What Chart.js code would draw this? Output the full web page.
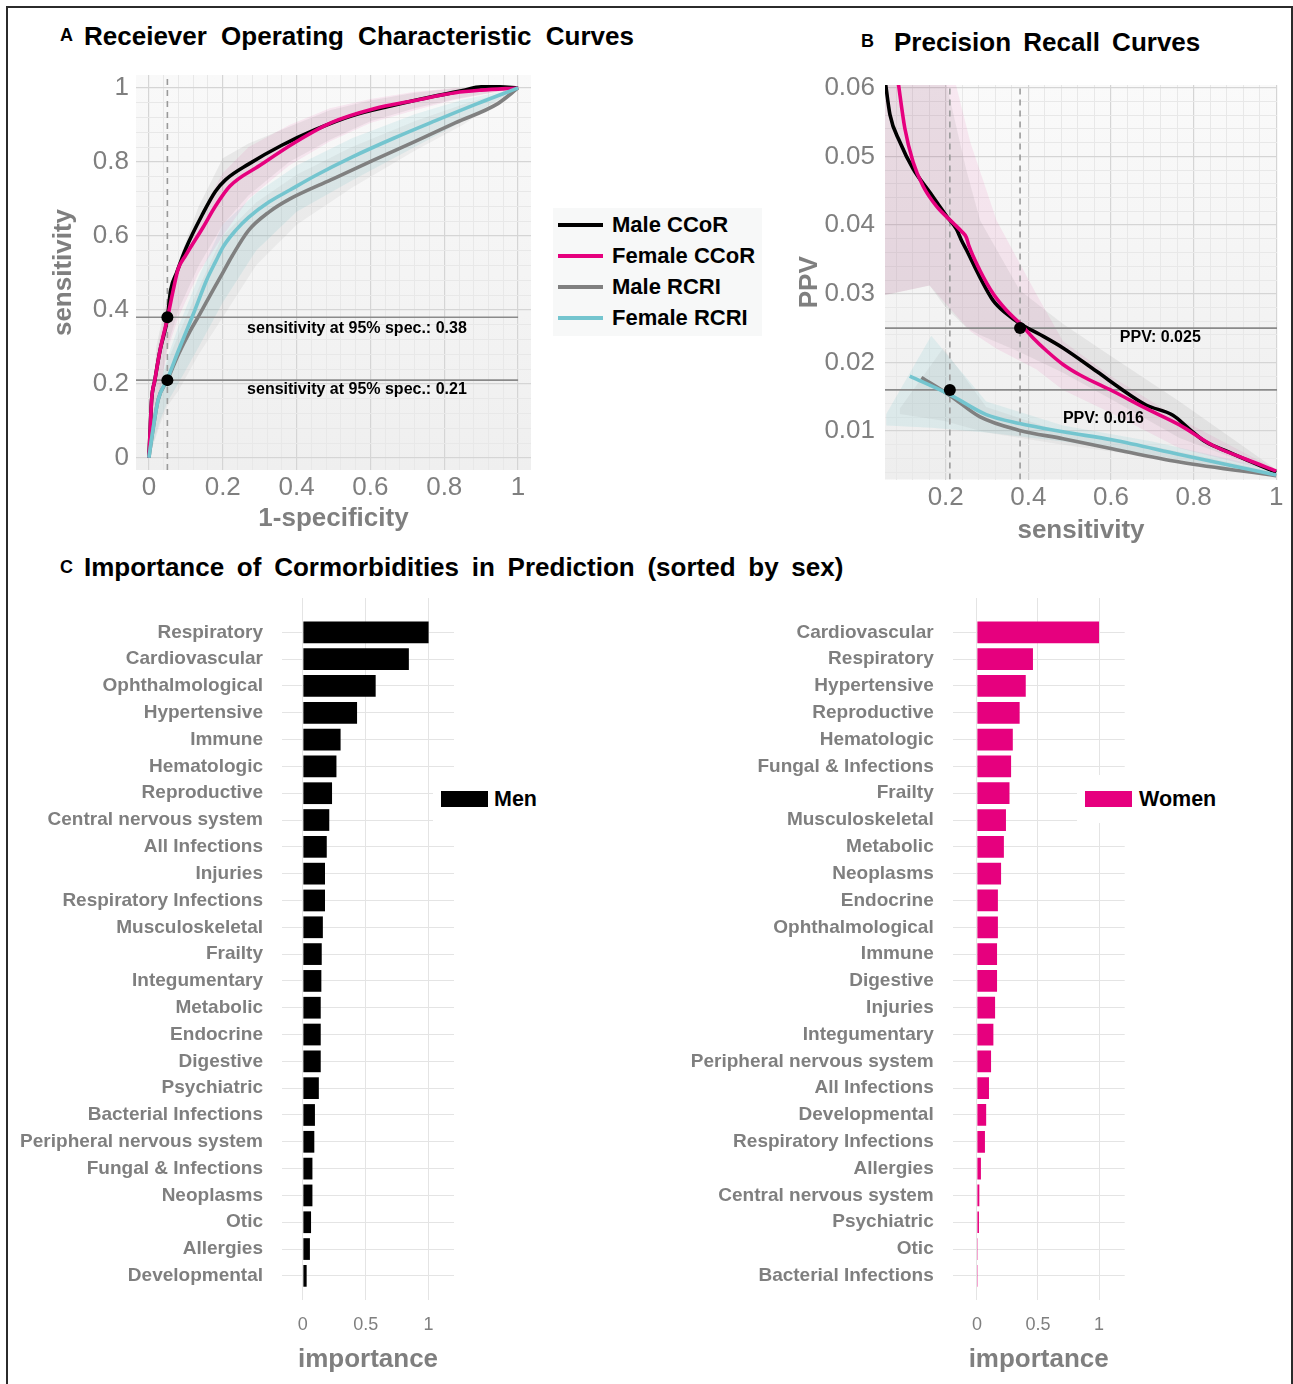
<!DOCTYPE html>
<html>
<head>
<meta charset="utf-8">
<title>CCoR vs RCRI – ROC, PR and comorbidity importance</title>
<script src="https://cdn.jsdelivr.net/npm/chart.js@4.4.1/dist/chart.umd.min.js"></script>
<style>
  html, body { margin: 0; padding: 0; background: #fff; }
  body { width: 1293px; height: 1384px; position: relative; overflow: hidden;
         font-family: "Liberation Sans", Arial, Helvetica, sans-serif; }
  .frame { position: absolute; left: 6px; top: 6px; width: 1287px; height: 1420px;
           border: 2px solid #2b2b2b; box-sizing: border-box; }
  .box { position: absolute; }
  .tag { position: absolute; font-weight: bold; font-size: 18px; line-height: 20px; color: #000; }
  .title { position: absolute; font-weight: bold; font-size: 26px; line-height: 30px; color: #000;
           white-space: nowrap; }
  .legend { position: absolute; background: #f7f8f8; }
  .swatch { position: absolute; }
  .ltext { position: absolute; font-weight: bold; font-size: 22px; line-height: 26px; color: #000; white-space: nowrap; }
  .cover { position: absolute; background: #fff; }
</style>
</head>
<body>
<div class="frame"></div>

<div class="tag" style="left:60px;top:25px">A</div>
<div class="title" style="left:84px;top:21px;word-spacing:7px">Receiever Operating Characteristic Curves</div>
<div class="tag" style="left:861px;top:31px">B</div>
<div class="title" style="left:894px;top:27px;word-spacing:5px">Precision Recall Curves</div>
<div class="tag" style="left:60px;top:557px">C</div>
<div class="title" style="left:84px;top:552px;word-spacing:5.5px">Importance of Cormorbidities in Prediction (sorted by sex)</div>

<div class="box" style="left:20px;top:60px;width:530px;height:480px"><canvas id="roc"></canvas></div>
<div class="box" style="left:790px;top:60px;width:503px;height:490px"><canvas id="pr"></canvas></div>
<div class="box" style="left:0px;top:580px;width:560px;height:800px"><canvas id="men"></canvas></div>
<div class="box" style="left:660px;top:580px;width:633px;height:800px"><canvas id="women"></canvas></div>

<div id="rocLegend" class="legend" style="left:553px;top:208px;width:209px;height:128px"></div>
<div id="menLegend" class="cover" style="left:433px;top:775px;width:112px;height:48px"></div>
<div id="womenLegend" class="cover" style="left:1077px;top:775px;width:150px;height:48px"></div>

<script>
// ---------- series names ----------
const rocSeries = ['Male CCoR', 'Female CCoR', 'Male RCRI', 'Female RCRI'];

// ---------- ROC curves (1-specificity, sensitivity) ----------
const rocMaleCcorFpr   = [0, 0.004, 0.0073, 0.016, 0.03, 0.0496, 0.059, 0.075, 0.1, 0.146, 0.18, 0.208, 0.27, 0.36, 0.45, 0.55, 0.663, 0.775, 0.85, 0.9, 0.95, 1];
const rocMaleCcorTpr   = [0, 0.09, 0.157, 0.21, 0.29, 0.375, 0.454, 0.5, 0.566, 0.66, 0.72, 0.752, 0.794, 0.845, 0.887, 0.925, 0.953, 0.978, 0.993, 1.003, 1.003, 1];
const rocFemaleCcorFpr = [0, 0.004, 0.0073, 0.016, 0.03, 0.0496, 0.066, 0.079, 0.1, 0.146, 0.18, 0.219, 0.3, 0.4, 0.494, 0.607, 0.72, 0.83, 0.9, 1];
const rocFemaleCcorTpr = [0, 0.09, 0.157, 0.21, 0.29, 0.375, 0.454, 0.51, 0.548, 0.622, 0.68, 0.734, 0.79, 0.855, 0.906, 0.943, 0.966, 0.987, 0.994, 1];
const rocMaleRcriFpr   = [0, 0.01, 0.025, 0.05, 0.08, 0.11, 0.134, 0.174, 0.2, 0.225, 0.27, 0.326, 0.382, 0.494, 0.607, 0.72, 0.831, 0.944, 1];
const rocMaleRcriTpr   = [0, 0.07, 0.157, 0.21, 0.28, 0.34, 0.382, 0.454, 0.5, 0.545, 0.615, 0.665, 0.7, 0.752, 0.804, 0.855, 0.906, 0.957, 1];
const rocFemaleRcriFpr = [0, 0.01, 0.025, 0.05, 0.08, 0.124, 0.157, 0.18, 0.202, 0.235, 0.27, 0.326, 0.382, 0.449, 0.55, 0.663, 0.775, 0.888, 1];
const rocFemaleRcriTpr = [0, 0.07, 0.157, 0.213, 0.29, 0.398, 0.482, 0.529, 0.572, 0.615, 0.65, 0.692, 0.724, 0.762, 0.813, 0.864, 0.911, 0.957, 1];

// ROC confidence bands
const rocCcorBandFpr    = [0, 0.02, 0.05, 0.08, 0.135, 0.2, 0.27, 0.38, 0.49, 0.6, 0.72, 0.83, 1];
const rocMaleCcorLow    = [0, 0.12, 0.3, 0.4, 0.52, 0.63, 0.71, 0.8, 0.86, 0.91, 0.945, 0.97, 1];
const rocMaleCcorHigh   = [0, 0.3, 0.44, 0.53, 0.68, 0.81, 0.85, 0.895, 0.94, 0.966, 0.987, 0.999, 1];
const rocFemaleCcorLow  = [0, 0.12, 0.29, 0.38, 0.5, 0.6, 0.7, 0.79, 0.855, 0.905, 0.94, 0.968, 1];
const rocFemaleCcorHigh = [0, 0.28, 0.43, 0.52, 0.65, 0.77, 0.84, 0.9, 0.945, 0.97, 0.99, 1.0, 1];
const rocRcriBandFpr    = [0, 0.03, 0.05, 0.079, 0.135, 0.2, 0.29, 0.4, 0.55, 0.72, 0.85, 1];
const rocMaleRcriLow    = [0, 0.09, 0.14, 0.18, 0.28, 0.38, 0.52, 0.63, 0.73, 0.83, 0.9, 1];
const rocMaleRcriHigh   = [0, 0.19, 0.26, 0.33, 0.46, 0.6, 0.69, 0.765, 0.84, 0.91, 0.955, 1];
const rocFemaleRcriLow  = [0, 0.1, 0.15, 0.2, 0.3, 0.42, 0.56, 0.665, 0.75, 0.84, 0.91, 1];
const rocFemaleRcriHigh = [0, 0.2, 0.27, 0.352, 0.49, 0.631, 0.715, 0.79, 0.864, 0.929, 0.968, 1];

// operating point at 95% specificity
const rocFprAtCut  = 0.05;
const rocSensAtCut = [0.38, 0.21];

// ---------- Precision-recall curves (sensitivity, PPV) ----------
const prMaleCcorSens   = [0.053, 0.065, 0.089, 0.121, 0.161, 0.202, 0.226, 0.238, 0.25, 0.282, 0.315, 0.347, 0.381, 0.427, 0.484, 0.565, 0.645, 0.685, 0.75, 0.79, 0.83, 0.887, 0.944, 1.0];
const prMaleCcorPpv    = [0.0612, 0.0561, 0.0521, 0.0482, 0.0448, 0.0413, 0.0394, 0.0378, 0.0364, 0.0325, 0.029, 0.0271, 0.0256, 0.0241, 0.0221, 0.0187, 0.0153, 0.0138, 0.0123, 0.0103, 0.0084, 0.0069, 0.0054, 0.0040];
const prFemaleCcorSens = [0.084, 0.101, 0.121, 0.145, 0.177, 0.218, 0.238, 0.25, 0.256, 0.282, 0.315, 0.347, 0.381, 0.411, 0.444, 0.484, 0.524, 0.605, 0.685, 0.766, 0.847, 0.927, 1.0];
const prFemaleCcorPpv  = [0.0612, 0.0541, 0.0492, 0.0457, 0.0428, 0.0403, 0.0391, 0.0382, 0.037, 0.0335, 0.030, 0.0276, 0.0256, 0.0236, 0.0217, 0.0197, 0.0182, 0.0158, 0.0133, 0.0109, 0.0079, 0.0059, 0.0042];
const prMaleRcriSens   = [0.141, 0.21, 0.282, 0.379, 0.484, 0.605, 0.766, 1.0];
const prMaleRcriPpv    = [0.0178, 0.0152, 0.0121, 0.0101, 0.0089, 0.0074, 0.0055, 0.0035];
const prFemaleRcriSens = [0.113, 0.21, 0.298, 0.379, 0.484, 0.605, 0.766, 1.0];
const prFemaleRcriPpv  = [0.018, 0.0153, 0.0124, 0.0111, 0.0099, 0.0087, 0.0066, 0.0036];

// PR confidence bands
const prMaleCcorBandSens   = [0.052, 0.161, 0.2, 0.25, 0.283, 0.379, 0.484, 0.605, 0.766, 1.0];
const prMaleCcorLow        = [0.0298, 0.0312, 0.028, 0.0251, 0.024, 0.0215, 0.0185, 0.0145, 0.009, 0.0038];
const prMaleCcorHigh       = [0.061, 0.061, 0.061, 0.048, 0.0407, 0.0305, 0.0256, 0.0207, 0.0143, 0.0044];
const prFemaleCcorBandSens = [0.052, 0.161, 0.2225, 0.26, 0.323, 0.419, 0.484, 0.605, 0.766, 1.0];
const prFemaleCcorLow      = [0.0298, 0.0312, 0.027, 0.0245, 0.022, 0.019, 0.016, 0.0125, 0.0075, 0.004];
const prFemaleCcorHigh     = [0.061, 0.061, 0.061, 0.052, 0.0407, 0.030, 0.0231, 0.0178, 0.0118, 0.0044];
const prMaleRcriBandSens   = [0.089, 0.194, 0.298, 0.484, 0.7, 1.0];
const prMaleRcriLow        = [0.0125, 0.0115, 0.0098, 0.008, 0.0062, 0.0032];
const prMaleRcriHigh       = [0.0133, 0.0221, 0.0135, 0.0098, 0.0078, 0.004];
const prFemaleRcriBandSens = [0.056, 0.165, 0.298, 0.484, 0.7, 1.0];
const prFemaleRcriLow      = [0.0108, 0.0105, 0.0098, 0.0085, 0.0065, 0.0033];
const prFemaleRcriHigh     = [0.0125, 0.0239, 0.0143, 0.0108, 0.0085, 0.0044];

// PPV at the 95%-specificity operating points
const prSensAtCut = [0.38, 0.21];
const prPpvAtCut  = [0.025, 0.016];

// ---------- comorbidity importance ----------
const menCategories = ['Respiratory', 'Cardiovascular', 'Ophthalmological', 'Hypertensive', 'Immune',
  'Hematologic', 'Reproductive', 'Central nervous system', 'All Infections', 'Injuries',
  'Respiratory Infections', 'Musculoskeletal', 'Frailty', 'Integumentary', 'Metabolic', 'Endocrine',
  'Digestive', 'Psychiatric', 'Bacterial Infections', 'Peripheral nervous system', 'Fungal & Infections',
  'Neoplasms', 'Otic', 'Allergies', 'Developmental'];
const menImportance = [1.0, 0.843, 0.579, 0.431, 0.30, 0.267, 0.232, 0.21, 0.19, 0.176, 0.176, 0.159,
  0.15, 0.147, 0.142, 0.142, 0.142, 0.127, 0.096, 0.091, 0.076, 0.076, 0.065, 0.056, 0.03];

const womenCategories = ['Cardiovascular', 'Respiratory', 'Hypertensive', 'Reproductive', 'Hematologic',
  'Fungal & Infections', 'Frailty', 'Musculoskeletal', 'Metabolic', 'Neoplasms', 'Endocrine',
  'Ophthalmological', 'Immune', 'Digestive', 'Injuries', 'Integumentary', 'Peripheral nervous system',
  'All Infections', 'Developmental', 'Respiratory Infections', 'Allergies', 'Central nervous system',
  'Psychiatric', 'Otic', 'Bacterial Infections'];
const womenImportance = [1.0, 0.459, 0.40, 0.35, 0.294, 0.28, 0.267, 0.238, 0.221, 0.198, 0.172, 0.172,
  0.165, 0.165, 0.149, 0.135, 0.116, 0.099, 0.076, 0.066, 0.033, 0.02, 0.017, 0.007, 0.007];

const importanceTicks = [0, 0.5, 1];

// ---------- styling ----------
const seriesColors = ['#000000', '#e6007e', '#808080', '#74c5cf'];
const bandColors = ['rgba(110,110,110,0.10)', 'rgba(230,0,126,0.07)', 'rgba(110,110,110,0.08)', 'rgba(116,197,207,0.16)'];
const axisGray = '#7f7f7f';
const FONT = '"Liberation Sans", Arial, Helvetica, sans-serif';

Chart.defaults.font.family = FONT;
Chart.defaults.animation = false;
Chart.defaults.plugins.legend.display = false;
Chart.defaults.plugins.tooltip.enabled = false;

const pts = (xs, ys) => xs.map((x, i) => ({ x, y: ys[i] }));
const bandShape = (xs, lo, hi) => pts(xs, hi).concat(pts(xs, lo).reverse());
const isMultiple = (v, step) => Math.abs(v / step - Math.round(v / step)) < 1e-6;
const stepValues = (from, to, step) => {
  const out = [];
  for (let i = 0; from + i * step <= to + 1e-9; i++) out.push(+(from + i * step).toFixed(6));
  return out;
};

// fixed axis box size, no extra room reserved for overhanging tick labels
function fixAxisBox(s, w, h) {
  if (w) s.width = w;
  if (h) s.height = h;
  s.paddingTop = 0; s.paddingBottom = 0; s.paddingLeft = 0; s.paddingRight = 0;
}

// light panel fill behind the grid
const panelBackground = {
  id: 'panelBackground',
  beforeDraw(chart, args, opts) {
    const { ctx, chartArea: a } = chart;
    const g = ctx.createLinearGradient(0, a.top, 0, a.bottom);
    g.addColorStop(0, opts.top);
    g.addColorStop(1, opts.bottom);
    ctx.save();
    ctx.fillStyle = g;
    ctx.fillRect(a.left, a.top, a.width, a.height);
    ctx.restore();
  }
};

// text notes placed in data coordinates
const cutNotes = {
  id: 'cutNotes',
  afterDatasetsDraw(chart, args, opts) {
    const { ctx, scales: { x, y } } = chart;
    ctx.save();
    ctx.font = 'bold 16px ' + FONT;
    ctx.fillStyle = '#000';
    ctx.textAlign = 'left';
    ctx.textBaseline = 'middle';
    opts.items.forEach(n => ctx.fillText(n.text, x.getPixelForValue(n.x), y.getPixelForValue(n.y)));
    ctx.restore();
  }
};

function lineSet(data, color, order) {
  return { data, borderColor: color, borderWidth: 3.6, pointRadius: 0, pointHoverRadius: 0,
           cubicInterpolationMode: 'monotone', fill: false, order };
}
function bandSet(data, color) {
  return { data, borderColor: 'transparent', borderWidth: 0, backgroundColor: color, pointRadius: 0,
           pointHoverRadius: 0, tension: 0, fill: 'shape', order: 9 };
}
function refSet(data, dashed) {
  return { data, borderColor: dashed ? '#9a9a9a' : '#8a8a8a', borderWidth: 1.6,
           borderDash: dashed ? [6, 5] : [], pointRadius: 0, pointHoverRadius: 0, tension: 0, fill: false, order: 6 };
}
function dotSet(data) {
  return { data, showLine: false, pointRadius: 6, pointHoverRadius: 6, pointBackgroundColor: '#000',
           pointBorderColor: '#000', pointBorderWidth: 0, order: 0 };
}

function curveAxis(opts) {
  return {
    type: 'linear', min: opts.min, max: opts.max,
    afterBuildTicks: s => { s.ticks = opts.grid.map(v => ({ value: v })); },
    afterFit: s => fixAxisBox(s, opts.size.w, opts.size.h),
    border: { display: false },
    grid: {
      drawTicks: false,
      color: c => isMultiple(c.tick.value, opts.major) ? '#d5d5d5' : '#e8e8e8',
      lineWidth: c => isMultiple(c.tick.value, opts.major) ? 1.2 : 1
    },
    ticks: {
      autoSkip: false, maxRotation: 0, padding: opts.pad, color: axisGray,
      font: { size: 26 },
      callback: v => isMultiple(v, opts.major) ? String(+v.toFixed(3)) : ''
    },
    title: { display: true, text: opts.title, color: axisGray, font: { size: 26, weight: 'bold' },
             padding: opts.titlePad }
  };
}

// ---------- A: ROC ----------
const rocX = { min: -0.035, max: 1.035 };
const rocY = { min: -0.033, max: 1.035 };
new Chart(document.getElementById('roc'), {
  type: 'line',
  data: {
    datasets: [
      dotSet(rocSensAtCut.map(s => ({ x: rocFprAtCut, y: s }))),
      lineSet(pts(rocFemaleRcriFpr, rocFemaleRcriTpr), seriesColors[3], 1),
      lineSet(pts(rocMaleRcriFpr, rocMaleRcriTpr), seriesColors[2], 2),
      lineSet(pts(rocFemaleCcorFpr, rocFemaleCcorTpr), seriesColors[1], 3),
      lineSet(pts(rocMaleCcorFpr, rocMaleCcorTpr), seriesColors[0], 4),
      ...rocSensAtCut.map(s => refSet([{ x: rocX.min, y: s }, { x: 1, y: s }], false)),
      refSet([{ x: rocFprAtCut, y: rocY.min }, { x: rocFprAtCut, y: rocY.max }], true),
      bandSet(bandShape(rocCcorBandFpr, rocMaleCcorLow, rocMaleCcorHigh), bandColors[0]),
      bandSet(bandShape(rocCcorBandFpr, rocFemaleCcorLow, rocFemaleCcorHigh), bandColors[1]),
      bandSet(bandShape(rocRcriBandFpr, rocMaleRcriLow, rocMaleRcriHigh), bandColors[2]),
      bandSet(bandShape(rocRcriBandFpr, rocFemaleRcriLow, rocFemaleRcriHigh), bandColors[3])
    ]
  },
  options: {
    responsive: true, maintainAspectRatio: false,
    layout: { padding: { top: 15, right: 19, bottom: 0, left: 0 } },
    scales: {
      x: curveAxis({ min: rocX.min, max: rocX.max, grid: stepValues(0, 1, 0.04), major: 0.2,
                     size: { h: 70 }, pad: 2.5, title: '1-specificity', titlePad: { top: 0, bottom: 6 } }),
      y: curveAxis({ min: rocY.min, max: rocY.max, grid: stepValues(0, 1, 0.04), major: 0.2,
                     size: { w: 116 }, pad: 7, title: 'sensitivity', titlePad: { top: 28, bottom: 0 } })
    },
    plugins: {
      panelBackground: { top: '#f9f9f9', bottom: '#efefef' },
      cutNotes: { items: [
        { text: 'sensitivity at 95% spec.: ' + rocSensAtCut[0].toFixed(2), x: 0.266, y: 0.349 },
        { text: 'sensitivity at 95% spec.: ' + rocSensAtCut[1].toFixed(2), x: 0.266, y: 0.184 }
      ] }
    }
  },
  plugins: [panelBackground, cutNotes]
});

// ---------- B: precision-recall ----------
const prX = { min: 0.053, max: 1.002 };
const prY = { min: 0.00295, max: 0.0604 };
new Chart(document.getElementById('pr'), {
  type: 'line',
  data: {
    datasets: [
      dotSet(prSensAtCut.map((s, i) => ({ x: s, y: prPpvAtCut[i] }))),
      lineSet(pts(prFemaleRcriSens, prFemaleRcriPpv), seriesColors[3], 1),
      lineSet(pts(prMaleRcriSens, prMaleRcriPpv), seriesColors[2], 2),
      lineSet(pts(prFemaleCcorSens, prFemaleCcorPpv), seriesColors[1], 3),
      lineSet(pts(prMaleCcorSens, prMaleCcorPpv), seriesColors[0], 4),
      ...prPpvAtCut.map(p => refSet([{ x: prX.min, y: p }, { x: prX.max, y: p }], false)),
      ...prSensAtCut.map(s => refSet([{ x: s, y: prY.min }, { x: s, y: prY.max }], true)),
      bandSet(bandShape(prMaleCcorBandSens, prMaleCcorLow, prMaleCcorHigh), bandColors[0]),
      bandSet(bandShape(prFemaleCcorBandSens, prFemaleCcorLow, prFemaleCcorHigh), bandColors[1]),
      bandSet(bandShape(prMaleRcriBandSens, prMaleRcriLow, prMaleRcriHigh), bandColors[2]),
      bandSet(bandShape(prFemaleRcriBandSens, prFemaleRcriLow, prFemaleRcriHigh), bandColors[3])
    ]
  },
  options: {
    responsive: true, maintainAspectRatio: false,
    layout: { padding: { top: 25, right: 16, bottom: 0, left: 0 } },
    scales: {
      x: curveAxis({ min: prX.min, max: prX.max, grid: stepValues(0.08, 1, 0.04), major: 0.2,
                     size: { h: 70.5 }, pad: 3, title: 'sensitivity', titlePad: { top: 0, bottom: 4 } }),
      y: curveAxis({ min: prY.min, max: prY.max, grid: stepValues(0.004, 0.06, 0.002), major: 0.01,
                     size: { w: 95 }, pad: 10, title: 'PPV', titlePad: { top: 4, bottom: 0 } })
    },
    plugins: {
      panelBackground: { top: '#fafafa', bottom: '#eeeeee' },
      cutNotes: { items: [
        { text: 'PPV: ' + prPpvAtCut[0].toFixed(3), x: 0.6215, y: 0.02355 },
        { text: 'PPV: ' + prPpvAtCut[1].toFixed(3), x: 0.4837, y: 0.01176 }
      ] }
    }
  },
  plugins: [panelBackground, cutNotes]
});

// ---------- C: importance bars ----------
function importanceChart(id, categories, values, color, geom) {
  return new Chart(document.getElementById(id), {
    type: 'bar',
    data: {
      datasets: [{
        data: values.map((v, i) => ({ x: v, y: i })),
        backgroundColor: color, borderWidth: 0,
        categoryPercentage: 1, barPercentage: 0.81
      }]
    },
    options: {
      indexAxis: 'y',
      responsive: true, maintainAspectRatio: false,
      layout: { padding: { top: geom.top, right: geom.right, bottom: 0, left: 0 } },
      scales: {
        x: {
          type: 'linear', min: geom.xmin, max: geom.xmax,
          afterBuildTicks: s => { s.ticks = importanceTicks.map(v => ({ value: v })); },
          afterFit: s => fixAxisBox(s, 0, 80),
          border: { display: false },
          grid: { drawTicks: false, color: '#e4e4e4', lineWidth: 1 },
          ticks: { autoSkip: false, maxRotation: 0, padding: 14, color: axisGray, font: { size: 18 },
                   callback: v => String(v) },
          title: { display: true, text: 'importance', color: axisGray, font: { size: 26, weight: 'bold' },
                   padding: { top: 0, bottom: 5 } }
        },
        y: {
          type: 'linear', reverse: true, min: -1.28, max: 24.9, offset: false,
          afterBuildTicks: s => { s.ticks = categories.map((c, i) => ({ value: i })); },
          afterFit: s => fixAxisBox(s, geom.axisWidth, 0),
          border: { display: false },
          grid: { drawTicks: false, offset: false, color: '#e4e4e4', lineWidth: 1 },
          ticks: { autoSkip: false, padding: 19, color: axisGray, font: { size: 19, weight: 'bold' },
                   callback: v => categories[v] }
        }
      }
    }
  });
}
importanceChart('men', menCategories, menImportance, '#000000',
  { top: 18, right: 106, xmin: -0.166, xmax: 1.202, axisWidth: 282 });
importanceChart('women', womenCategories, womenImportance, '#e6007e',
  { top: 18, right: 168.3, xmin: -0.198, xmax: 1.21, axisWidth: 292.7 });

// ---------- legends ----------
function addSwatch(host, left, top, w, h, color) {
  const s = document.createElement('div');
  s.className = 'swatch';
  Object.assign(s.style, { left: left + 'px', top: top + 'px', width: w + 'px', height: h + 'px', background: color });
  host.appendChild(s);
}
function addText(host, left, top, text) {
  const t = document.createElement('div');
  t.className = 'ltext';
  t.textContent = text;
  Object.assign(t.style, { left: left + 'px', top: top + 'px' });
  host.appendChild(t);
}

const rocLegend = document.getElementById('rocLegend');
rocSeries.forEach((name, i) => {
  const yc = 17 + i * 31;
  addSwatch(rocLegend, 5, yc - 2, 45, 4, seriesColors[i]);
  addText(rocLegend, 59, yc - 12.7, name);
});

const menLegend = document.getElementById('menLegend');
addSwatch(menLegend, 8, 16, 47, 16, '#000000');
addText(menLegend, 61, 11, 'Men');
menLegend.lastChild.style.fontSize = '21.5px';

const womenLegend = document.getElementById('womenLegend');
addSwatch(womenLegend, 8, 16, 47, 16, '#e6007e');
addText(womenLegend, 62, 11, 'Women');
womenLegend.lastChild.style.fontSize = '21.5px';
</script>
</body>
</html>
